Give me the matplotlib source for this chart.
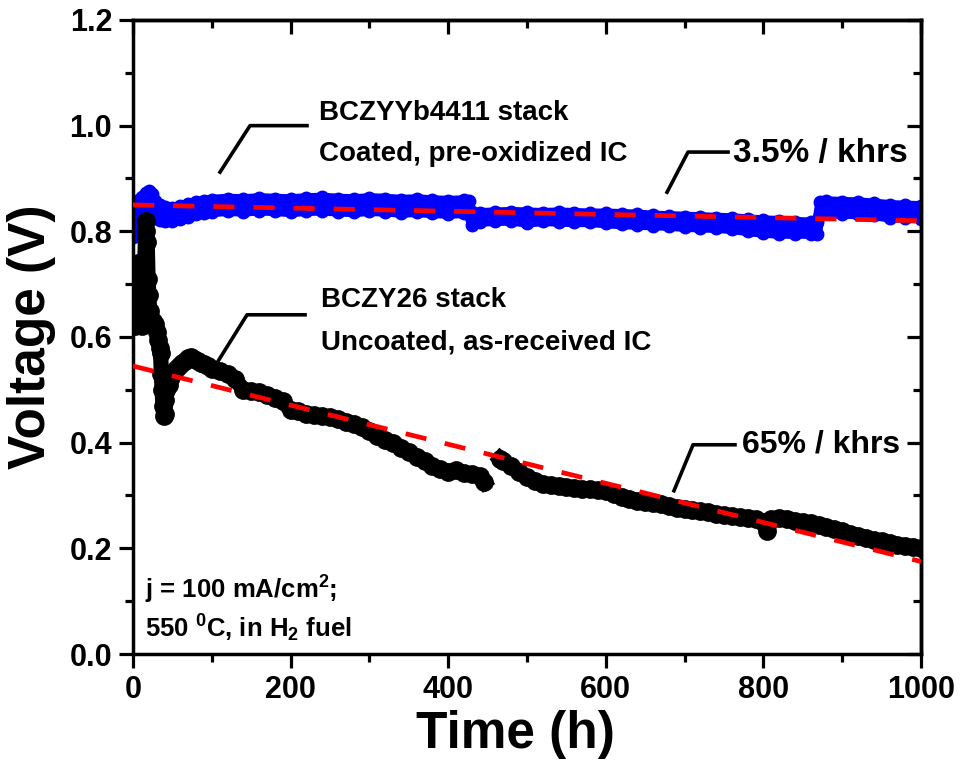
import numpy as np
import matplotlib
matplotlib.use("Agg")
import matplotlib.pyplot as plt
from matplotlib.ticker import MultipleLocator, FormatStrFormatter

plt.rcParams["font.family"] = ["Liberation Sans", "DejaVu Sans"]
plt.rcParams["font.weight"] = "bold"
plt.rcParams["mathtext.fontset"] = "custom"
plt.rcParams["mathtext.rm"] = "Liberation Sans:bold"
plt.rcParams["mathtext.bf"] = "Liberation Sans:bold"
plt.rcParams["mathtext.it"] = "Liberation Sans:bold"

# ------------------------------------------------------
# data
# ------------------------------------------------------
# BCZYYb4411 stack (blue) - upper / lower edge of the point cloud
t_blue = [0, 4, 8, 12, 16, 20, 24, 28, 34, 40, 50, 60, 70, 80, 90,
          100, 120, 140, 160, 180, 200, 220, 240, 260, 280, 300, 320, 340, 360, 380, 400, 420, 426,
          430, 440, 460, 480, 500, 520, 540, 560, 580, 600, 620, 640, 660, 680, 700, 720, 740,
          760, 780, 800, 820, 840, 860, 868,
          872, 880, 900, 920, 940, 960, 980, 1000]
v_blue_hi = [0.848, 0.855, 0.860, 0.865, 0.873, 0.876, 0.870, 0.858, 0.850, 0.846, 0.845, 0.848, 0.852, 0.856, 0.858,
             0.860, 0.862, 0.861, 0.863, 0.862, 0.861, 0.863, 0.864, 0.862, 0.861, 0.863, 0.862, 0.860, 0.861, 0.859, 0.858, 0.859, 0.857,
             0.836, 0.835, 0.836, 0.837, 0.836, 0.835, 0.836, 0.835, 0.834, 0.834, 0.833, 0.832, 0.830, 0.829, 0.828, 0.827, 0.826,
             0.825, 0.823, 0.821, 0.820, 0.818, 0.817, 0.817,
             0.855, 0.857, 0.856, 0.855, 0.853, 0.850, 0.849, 0.848]
v_blue_lo = [0.790, 0.800, 0.815, 0.825, 0.830, 0.832, 0.830, 0.826, 0.822, 0.820, 0.820, 0.823, 0.828, 0.832, 0.834,
             0.836, 0.838, 0.837, 0.839, 0.838, 0.836, 0.838, 0.839, 0.837, 0.836, 0.838, 0.837, 0.835, 0.836, 0.834, 0.833, 0.834, 0.832,
             0.812, 0.818, 0.819, 0.820, 0.816, 0.819, 0.818, 0.817, 0.817, 0.815, 0.813, 0.812, 0.811, 0.810, 0.808, 0.807, 0.806,
             0.804, 0.800, 0.797, 0.795, 0.795, 0.795, 0.795,
             0.830, 0.834, 0.833, 0.832, 0.830, 0.826, 0.825, 0.824]

# BCZY26 stack (black)
t_black = [0, 1, 2, 3, 5, 6, 7, 8, 10, 12, 14, 15, 16, 17, 18, 19, 20, 21, 22, 24, 26, 28, 30,
           32, 34, 35, 36, 37, 38, 39, 40, 41, 42, 44, 46, 48, 50, 54, 58, 62, 66, 70, 74, 78,
           82, 86, 90, 95, 100, 110, 120, 130, 140, 150, 160, 170, 180, 190, 200, 210, 220, 230,
           240, 250, 260, 270, 280, 290, 300, 310, 320, 330, 340, 350, 360, 370, 380, 390, 400,
           410, 420, 430, 440, 446, 456, 466, 470, 480, 490, 500, 510, 520, 530, 540, 550, 560,
           570, 580, 590, 600, 610, 620, 630, 640, 650, 660, 670, 680, 690, 700, 710, 720, 730,
           740, 750, 760, 770, 780, 790, 800, 805, 810, 820, 830, 840, 850, 860, 870, 880, 890,
           900, 910, 920, 930, 940, 950, 960, 970, 980, 990, 1000]
v_black = [0.68, 0.65, 0.62, 0.64, 0.69, 0.74, 0.70, 0.66, 0.63, 0.62, 0.66, 0.74, 0.80, 0.82, 0.78, 0.71, 0.68, 0.65, 0.63, 0.625, 0.63, 0.625, 0.61,
           0.595, 0.58, 0.57, 0.53, 0.50, 0.47, 0.45, 0.455, 0.48, 0.50, 0.52, 0.51, 0.525, 0.53, 0.54, 0.545, 0.55, 0.555, 0.56, 0.562, 0.558,
           0.555, 0.55, 0.548, 0.545, 0.54, 0.535, 0.53, 0.52, 0.50, 0.498, 0.495, 0.49, 0.485, 0.478, 0.462, 0.46, 0.455, 0.452,
           0.45, 0.448, 0.445, 0.44, 0.435, 0.43, 0.422, 0.412, 0.405, 0.40, 0.39, 0.382, 0.372, 0.365, 0.355, 0.35, 0.345,
           0.348, 0.342, 0.34, 0.337, 0.325, np.nan, 0.37, 0.365, 0.355, 0.345, 0.335, 0.327, 0.322, 0.32, 0.318, 0.316, 0.315,
           0.313, 0.312, 0.31, 0.308, 0.302, 0.298, 0.294, 0.29, 0.288, 0.285, 0.283, 0.28, 0.277, 0.274, 0.272, 0.27, 0.268,
           0.265, 0.263, 0.261, 0.259, 0.258, 0.256, 0.25, 0.232, 0.255, 0.258, 0.256, 0.252, 0.25, 0.247, 0.244, 0.24, 0.236,
           0.232, 0.228, 0.224, 0.22, 0.216, 0.213, 0.21, 0.207, 0.205, 0.203, 0.20]

# linear degradation fits
t_fit = [0, 1000]
v_fit_blue = [0.85, 0.82]
v_fit_black = [0.545, 0.175]

# ------------------------------------------------------
# figure
# ------------------------------------------------------
fig = plt.figure(figsize=(9.61, 7.77), dpi=100)
ax = fig.add_axes([0.1384, 0.1583, 0.820, 0.816])

blue = "#0000ff"
ax.fill_between(t_blue, v_blue_lo, v_blue_hi, color=blue, lw=0, zorder=2)
ax.plot(t_blue, v_blue_hi, "-o", color=blue, ms=9, lw=7, zorder=2)
ax.plot(t_blue, v_blue_lo, "-o", color=blue, ms=9, lw=7, zorder=2)
ax.plot(t_black, v_black, "-o", color="black", ms=12.5, lw=11, zorder=3)

dash = (0, (4.5, 4))
ax.plot(t_fit, v_fit_blue, color="red", lw=3.4, ls=dash, zorder=4)
ax.plot(t_fit, v_fit_black, color="red", lw=3.4, ls=dash, zorder=4)

# leader lines + labels
lab = dict(fontsize=20, fontweight="bold", va="center", ha="left")
ax.plot([110.4, 148.5, 220.8], [0.912, 1.0, 1.0], color="black", lw=2.6)
ax.text(236, 1.024, "BCZYYb4411 stack", **lab)
ax.text(236, 0.946, "Coated, pre-oxidized IC", **lab)

ax.plot([106.6, 144.7, 218.3], [0.551, 0.642, 0.642], color="black", lw=2.6)
ax.text(238, 0.670, "BCZY26 stack", **lab)
ax.text(238, 0.589, "Uncoated, as-received IC", **lab)

ax.plot([677.7, 704.3, 755.1], [0.874, 0.950, 0.950], color="black", lw=2.6)
ax.text(762, 0.948, "3.5% / khrs", fontsize=24, fontweight="bold", va="center", ha="left")

ax.plot([686.5, 710.7, 763.9], [0.309, 0.396, 0.396], color="black", lw=2.6)
ax.text(773, 0.397, "65% / khrs", fontsize=23, fontweight="bold", va="center", ha="left")

ax.text(15, 0.121, r"j = 100 mA/cm$^{2}$;", fontsize=18.5, fontweight="bold", va="center", ha="left")
ax.text(15, 0.049, r"550 $^{0}$C, in H$_{2}$ fuel", fontsize=18.5, fontweight="bold", va="center", ha="left")

# axes styling
ax.set_xlim(0, 1000)
ax.set_ylim(0, 1.2)
ax.xaxis.set_major_locator(MultipleLocator(200))
ax.xaxis.set_minor_locator(MultipleLocator(100))
ax.yaxis.set_major_locator(MultipleLocator(0.2))
ax.yaxis.set_minor_locator(MultipleLocator(0.1))
ax.yaxis.set_major_formatter(FormatStrFormatter("%.1f"))
for s in ax.spines.values():
    s.set_linewidth(2.5)
ax.tick_params(which="major", direction="out", length=10, width=2.3, labelsize=22, pad=5)
ax.tick_params(which="minor", direction="out", length=6, width=2.3)
for lbl in ax.get_xticklabels() + ax.get_yticklabels():
    lbl.set_fontweight("bold")

top = ax.secondary_xaxis("top")
top.xaxis.set_major_locator(MultipleLocator(200))
top.xaxis.set_minor_locator(MultipleLocator(100))
top.tick_params(which="major", direction="in", length=10, width=2.3, labeltop=False)
top.tick_params(which="minor", direction="in", length=6, width=2.3)
top.spines["top"].set_linewidth(2.5)

right = ax.secondary_yaxis("right")
right.yaxis.set_major_locator(MultipleLocator(0.2))
right.yaxis.set_minor_locator(MultipleLocator(0.1))
right.tick_params(which="major", direction="in", length=10, width=2.3, labelright=False)
right.tick_params(which="minor", direction="in", length=6, width=2.3)
right.spines["right"].set_linewidth(2.5)

ax.set_xlabel("Time (h)", fontsize=37, fontweight="bold")
ax.xaxis.set_label_coords(0.485, -0.088)
ax.set_ylabel("Voltage (V)", fontsize=37, fontweight="bold", labelpad=10)

fig.savefig("out.png", dpi=100)
